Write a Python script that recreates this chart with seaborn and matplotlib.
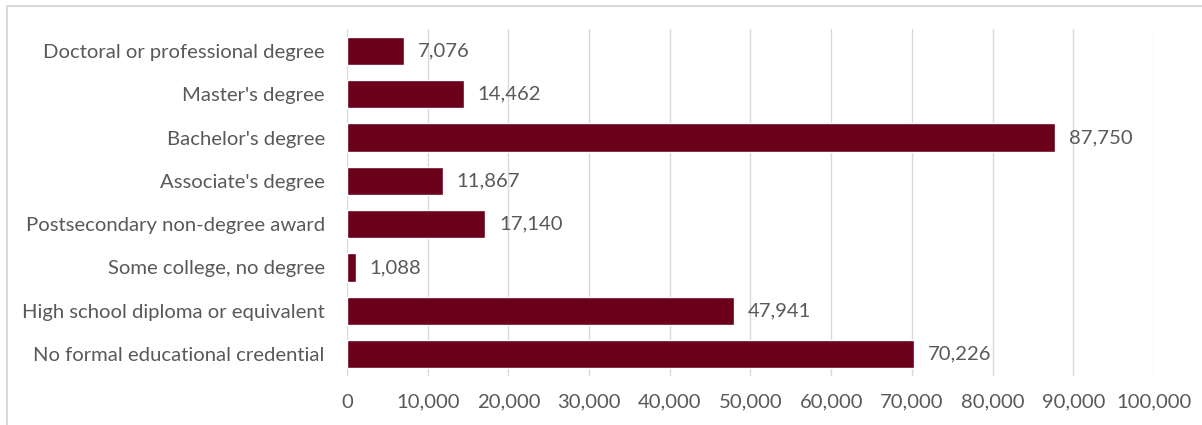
import matplotlib
matplotlib.use("Agg")
import matplotlib.pyplot as plt
import seaborn as sns
import pandas as pd
from matplotlib.patches import Rectangle
from matplotlib.ticker import FuncFormatter

categories = [
    "Doctoral or professional degree",
    "Master's degree",
    "Bachelor's degree",
    "Associate's degree",
    "Postsecondary non-degree award",
    "Some college, no degree",
    "High school diploma or equivalent",
    "No formal educational credential",
]
values = [7076, 14462, 87750, 11867, 17140, 1088, 47941, 70226]
x_ticks = [0, 10000, 20000, 30000, 40000, 50000, 60000, 70000, 80000, 90000, 100000]

sns.set_theme(style="white")
plt.rcParams["font.family"] = ["Lato", "DejaVu Sans"]

df = pd.DataFrame({"category": categories, "value": values})

fig = plt.figure(figsize=(12.02, 4.25), dpi=100)
ax = fig.add_axes([0.2887, 0.116, 0.960 - 0.2887, 0.931 - 0.116])

sns.barplot(data=df, x="value", y="category", orient="h", color="#6B001B",
            saturation=1, width=0.65, ax=ax, order=categories)

ax.set_xlim(0, 100000)
ax.set_ylim(len(categories) - 0.5, -0.5)
ax.set_xticks(x_ticks)
ax.xaxis.set_major_formatter(FuncFormatter(lambda v, p: f"{int(v):,}"))
ax.grid(axis="x", color="#D9D9D9", linewidth=1)
ax.set_axisbelow(True)
for s in ["top", "right", "bottom", "left"]:
    ax.spines[s].set_visible(False)
ax.set_xlabel("")
ax.set_ylabel("")
ax.tick_params(axis="both", length=0, labelsize=14.6, colors="#595959")
ax.tick_params(axis="x", pad=13)
ax.tick_params(axis="y", pad=16)

for i, v in enumerate(values):
    ax.annotate(f"{v:,}", xy=(v, i), xytext=(10, 0), textcoords="offset points",
                va="center", ha="left", fontsize=14.6, color="#595959")

fig.patches.append(Rectangle((7 / 1202, -0.1), 1.2, 1.0 + 0.1 - 6 / 425,
                             transform=fig.transFigure, fill=False,
                             edgecolor="#D9D9D9", linewidth=1.5))

fig.savefig("out.png", dpi=100, facecolor="white")
